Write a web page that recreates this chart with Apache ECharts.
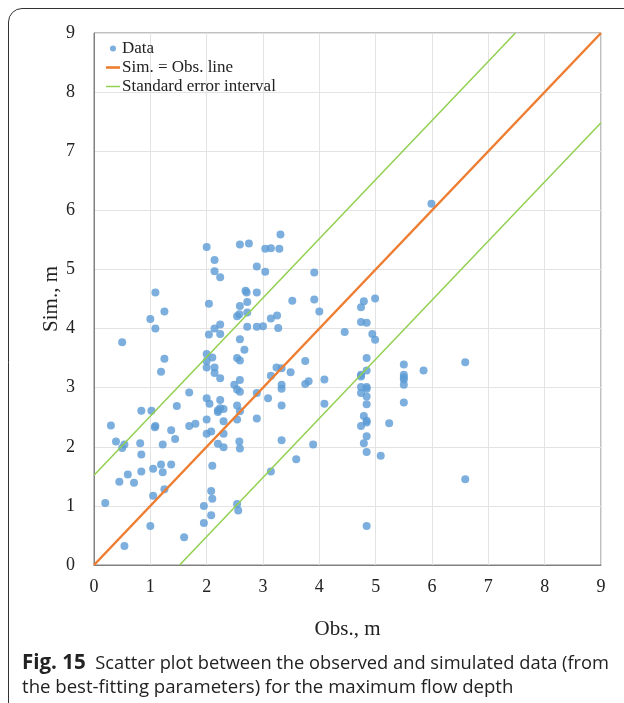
<!DOCTYPE html>
<html>
<head>
<meta charset="utf-8">
<script src="https://cdn.jsdelivr.net/npm/echarts@6/dist/echarts.min.js"></script>
<style>
html,body{margin:0;padding:0;background:#fff;}
#chart{width:624px;height:703px;}
</style>
</head>
<body>
<div id="chart"></div>
<script>
var obs = [2.00,2.59,2.75,2.14,2.14,2.24,2.89,1.09,2.69,2.71,2.89,2.04,2.59,2.72,1.25,2.54,2.58,2.72,1.00,1.09,
2.14,2.24,2.04,2.24,2.72,2.89,0.50,2.59,2.67,2.00,2.10,1.25,2.00,2.00,2.14,2.14,2.54,2.59,1.19,2.24,
2.59,2.49,2.54,2.59,1.69,2.89,2.00,2.05,2.24,0.84,1.02,1.47,2.54,2.20,2.24,2.30,2.20,2.59,0.30,1.09,
1.08,1.69,1.80,2.00,2.30,2.54,2.89,1.37,2.00,2.08,2.30,0.39,0.50,0.54,0.82,1.22,1.44,2.20,2.30,2.58,
2.59,0.84,1.19,1.22,1.05,1.37,2.10,0.60,0.45,0.71,0.84,1.25,1.05,2.08,2.10,0.20,1.95,2.54,2.56,2.08,
1.00,1.95,1.60,0.54,3.31,3.04,3.14,3.29,3.04,3.91,3.52,3.91,4.00,3.14,3.25,3.00,3.27,4.45,3.24,3.33,
3.75,3.14,3.49,3.75,3.81,4.09,3.33,3.33,3.09,3.33,4.09,3.33,3.89,3.59,3.14,4.79,4.74,4.99,4.74,4.84,
4.94,4.99,4.84,4.74,4.74,4.84,5.50,5.50,5.50,5.50,5.50,5.85,4.74,4.84,4.74,4.84,4.84,5.50,4.84,4.79,
4.84,4.84,4.74,5.24,4.84,4.79,4.84,5.09,4.84,6.59,6.59,5.99];
var sim = [5.38,5.42,5.44,5.16,4.97,4.87,5.05,4.61,4.64,4.61,4.61,4.42,4.38,4.45,4.29,4.21,4.24,4.27,4.16,4.00,
4.00,4.07,3.90,3.91,4.03,4.03,3.77,3.82,3.64,3.57,3.51,3.49,3.45,3.34,3.34,3.25,3.50,3.46,3.27,3.16,
3.13,3.05,2.97,2.93,2.92,2.91,2.82,2.73,2.79,2.61,2.61,2.69,2.70,2.62,2.65,2.64,2.59,2.60,2.36,2.35,
2.33,2.35,2.39,2.46,2.43,2.46,2.48,2.28,2.22,2.26,2.22,2.09,1.98,2.04,2.06,2.04,2.13,2.05,1.99,2.09,
1.97,1.87,1.70,1.57,1.63,1.70,1.68,1.53,1.41,1.39,1.58,1.28,1.17,1.25,1.12,1.05,1.00,1.03,0.92,0.84,
0.66,0.71,0.47,0.32,5.59,5.35,5.36,5.35,4.96,4.95,4.47,4.49,4.29,4.17,4.22,4.04,4.01,3.94,3.34,3.33,
3.45,3.20,3.26,3.06,3.11,3.14,3.05,2.98,2.82,2.70,2.73,2.11,2.04,1.79,1.58,4.46,4.36,4.51,4.11,4.10,
3.91,3.81,3.50,3.22,3.19,3.29,3.39,3.22,3.17,3.14,3.05,3.29,3.01,3.01,2.91,2.98,2.85,2.75,2.72,2.52,
2.44,2.41,2.35,2.40,2.18,2.06,1.91,1.85,0.66,3.43,1.45,6.11];

var axisMin = 0, axisMax = 9, axisInterval = 1;
var stdErr = 1.52;
var seriesNames = ['Data', 'Sim. = Obs. line', 'Standard error interval'];
var captionBold = 'Fig. 15';
var captionLine1 = 'Scatter plot between the observed and simulated data (from';
var captionLine2 = 'the best-fitting parameters) for the maximum flow depth';
var xName = 'Obs., m', yName = 'Sim., m';

var points = obs.map(function (v, i) { return [v, sim[i]]; });
var oneToOne = [[axisMin, axisMin], [axisMax, axisMax]];
var upper = [[axisMin, axisMin + stdErr], [axisMax - stdErr, axisMax]];
var lower = [[axisMin + stdErr, axisMin], [axisMax, axisMax - stdErr]];

var serif = '"Liberation Serif", "Times New Roman", serif';
var sans = '"Open Sans", "Noto Sans", sans-serif';
var chart = echarts.init(document.getElementById('chart'), null, {renderer: 'canvas'});
chart.setOption({
  backgroundColor: '#fff',
  animation: false,
  grid: {left: 94, right: 23, top: 33, bottom: 138, show: true, borderColor: '#808080', borderWidth: 1},
  legend: {
    orient: 'vertical', left: 106, top: 40, padding: 0, itemWidth: 14, itemHeight: 6, itemGap: 2,
    symbolKeepAspect: true,
    textStyle: {fontFamily: serif, fontSize: 17, color: '#222', padding: [0, 0, 0, -3]},
    data: [
      {name: seriesNames[0], icon: 'circle'},
      {name: seriesNames[1], icon: 'path://M0 0 H14 V2.6 H0 Z'},
      {name: seriesNames[2], icon: 'path://M0 0 H14 V1.5 H0 Z'}
    ]
  },
  xAxis: {
    type: 'value', min: axisMin, max: axisMax, interval: axisInterval,
    name: xName, nameLocation: 'middle', nameGap: 54,
    nameTextStyle: {fontFamily: serif, fontSize: 21, color: '#222'},
    axisLine: {show: true, lineStyle: {color: '#808080'}},
    axisTick: {show: false},
    axisLabel: {fontFamily: serif, fontSize: 18, color: '#222', margin: 13},
    splitLine: {show: true, lineStyle: {color: '#e3e3e3'}}
  },
  yAxis: {
    type: 'value', min: axisMin, max: axisMax, interval: axisInterval,
    name: yName, nameLocation: 'middle', nameGap: 32, nameRotate: 90, nameMoveOverlap: false,
    nameTextStyle: {fontFamily: serif, fontSize: 21, color: '#222'},
    axisLine: {show: true, lineStyle: {color: '#808080'}},
    axisTick: {show: false},
    axisLabel: {fontFamily: serif, fontSize: 18, color: '#222', margin: 19},
    splitLine: {show: true, lineStyle: {color: '#e3e3e3'}}
  },
  series: [
    {name: seriesNames[0], type: 'scatter', data: points, symbolSize: 8,
     itemStyle: {color: '#5B9BD5'}, z: 2},
    {name: seriesNames[1], type: 'line', data: oneToOne, symbol: 'none',
     lineStyle: {color: '#ED7D31', width: 2.5}, itemStyle: {color: '#ED7D31'}, z: 3},
    {name: seriesNames[2], type: 'line', data: upper, symbol: 'none',
     lineStyle: {color: '#92D050', width: 1.5}, itemStyle: {color: '#92D050'}, z: 3},
    {name: seriesNames[2], type: 'line', data: lower, symbol: 'none',
     lineStyle: {color: '#92D050', width: 1.5}, itemStyle: {color: '#92D050'}, z: 3}
  ],
  graphic: [
    {type: 'line', silent: true, shape: {x1: 8.5, y1: 703, x2: 8.5, y2: 22},
     style: {stroke: '#333', lineWidth: 1}},
    {type: 'arc', silent: true,
     shape: {cx: 22, cy: 22, r: 13.5, startAngle: Math.PI, endAngle: Math.PI * 1.5, clockwise: true},
     style: {stroke: '#333', lineWidth: 1, fill: null}},
    {type: 'line', silent: true, shape: {x1: 22, y1: 8.5, x2: 624, y2: 8.5},
     style: {stroke: '#333', lineWidth: 1}},
    {type: 'text', left: 22, top: 653,
     style: {text: '{b|' + captionBold + '}  ' + captionLine1,
       font: '18.3px ' + sans, fill: '#222',
       rich: {b: {fontWeight: 'bold', fontSize: 20.5, fontFamily: sans, fill: '#222'}}}},
    {type: 'text', left: 22, top: 678,
     style: {text: captionLine2, font: '18.6px ' + sans, fill: '#222'}}
  ]
});
</script>
</body>
</html>
